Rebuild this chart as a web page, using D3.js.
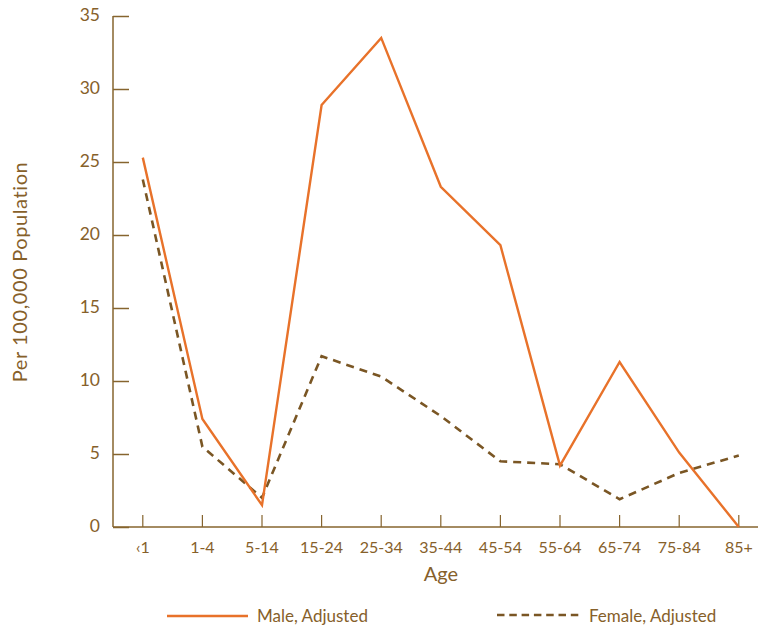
<!DOCTYPE html>
<html><head><meta charset="utf-8">
<script src="https://cdn.jsdelivr.net/npm/d3@7"></script>
<style>body{margin:0;background:#fff;}svg{display:block;}</style>
</head><body>
<svg id="chart" width="758" height="627"></svg>
<script>
const categories = ["<1","1-4","5-14","15-24","25-34","35-44","45-54","55-64","65-74","75-84","85+"];
const categoryLabels = ["‹1","1-4","5-14","15-24","25-34","35-44","45-54","55-64","65-74","75-84","85+"];
const maleValues = [25.3,7.4,1.5,28.9,33.5,23.3,19.3,4.2,11.3,5.1,0];
const femaleValues = [23.8,5.5,2.0,11.7,10.3,7.6,4.5,4.3,1.9,3.7,4.9];
const yTicks = [0,5,10,15,20,25,30,35];
const seriesNames = ["Male, Adjusted","Female, Adjusted"];

const svg = d3.select("#chart");
const font = "Lato, sans-serif";
const axisColor = "#86642e";
const textColor = "#86602a";
const maleColor = "#e8722a";
const femaleColor = "#7a5624";

const x0 = 113, plotTop = 16, plotBottom = 527;
const x = d3.scaleBand().domain(categories).range([x0, x0 + 11*59.6]);
const y = d3.scaleLinear().domain([0,35]).range([plotBottom, plotTop]);
const cx = c => x(c) + x.bandwidth()/2;

// y axis
const yAxis = svg.append("g").attr("transform",`translate(${x0},0)`)
  .call(d3.axisRight(y).tickValues(yTicks).tickSize(16).tickFormat(d3.format("d")));
yAxis.select(".domain").attr("stroke",axisColor).attr("stroke-width",1.5).attr("d",`M0,${plotTop}V${plotBottom}`);
yAxis.selectAll(".tick line").attr("stroke",axisColor).attr("stroke-width",1.5);
yAxis.selectAll(".tick text").attr("x",-13).attr("dy","0.25em").attr("text-anchor","end")
  .attr("fill",textColor).style("font-family",font).style("font-size","17.5px");

// x axis
const xAxis = svg.append("g").attr("transform",`translate(0,${plotBottom})`)
  .call(d3.axisTop(x).tickSize(12).tickFormat((d,i)=>categoryLabels[i]));
xAxis.select(".domain").attr("stroke",axisColor).attr("stroke-width",1.5).attr("d",`M${x0},0H758`);
xAxis.selectAll(".tick line").attr("stroke",axisColor).attr("stroke-width",1.2);
xAxis.selectAll(".tick text").attr("y",21).attr("dy","0.32em")
  .attr("fill",textColor).style("font-family",font).style("font-size","16px");

// axis titles
svg.append("text").attr("x",441).attr("y",581).attr("text-anchor","middle")
  .attr("fill",textColor).style("font-family",font).style("font-size","20px").text("Age");
svg.append("text").attr("transform","translate(27,272) rotate(-90)").attr("text-anchor","middle")
  .attr("fill",textColor).style("font-family",font).style("font-size","20px")
  .style("letter-spacing","0.6px").text("Per 100,000 Population");

// lines
const line = d3.line().x((d,i)=>cx(categories[i])).y(d=>y(d));
svg.append("path").datum(femaleValues).attr("d",line).attr("fill","none")
  .attr("stroke",femaleColor).attr("stroke-width",2.6).attr("stroke-dasharray","8,6");
svg.append("path").datum(maleValues).attr("d",line).attr("fill","none")
  .attr("stroke",maleColor).attr("stroke-width",2.4);

// legend
const lg = svg.append("g");
lg.append("line").attr("x1",167).attr("x2",248).attr("y1",616).attr("y2",616)
  .attr("stroke",maleColor).attr("stroke-width",2.6);
lg.append("text").attr("x",257).attr("y",622).attr("fill",textColor)
  .style("font-family",font).style("font-size","17px").text(seriesNames[0]);
lg.append("line").attr("x1",497).attr("x2",582).attr("y1",615).attr("y2",615)
  .attr("stroke",femaleColor).attr("stroke-width",2.6).attr("stroke-dasharray","7.5,4.8");
lg.append("text").attr("x",589).attr("y",622).attr("fill",textColor)
  .style("font-family",font).style("font-size","17px").text(seriesNames[1]);
</script>
</body></html>
